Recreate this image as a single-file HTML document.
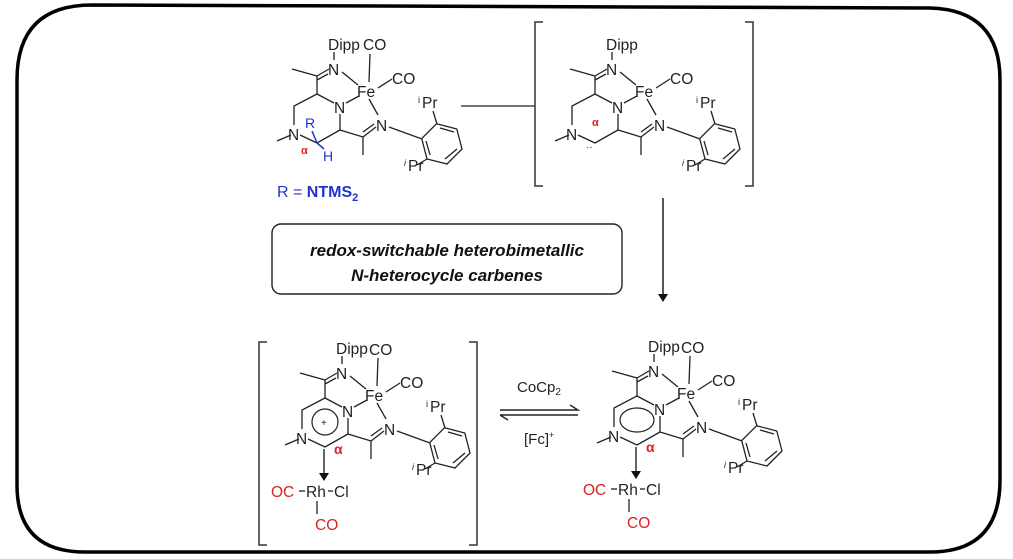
<!DOCTYPE html>
<html><head><meta charset="utf-8"><style>
html,body{margin:0;padding:0;background:#fff;}
svg{display:block}
text{font-family:"Liberation Sans",sans-serif;}
</style></head><body>
<svg width="1013" height="559" viewBox="0 0 1013 559" xmlns="http://www.w3.org/2000/svg">
<defs>
<marker id="ah" markerWidth="8" markerHeight="10" refX="7" refY="5" orient="auto" markerUnits="userSpaceOnUse">
<path d="M0,0 L8,5 L0,10 z" fill="#111"/></marker>
<g id="core" stroke="#222" stroke-width="1.3" fill="none">
<line x1="654" y1="354" x2="654" y2="362"/>
<line x1="662" y1="374" x2="678" y2="387"/>
<line x1="698" y1="390" x2="712" y2="381"/>
<line x1="637" y1="378" x2="612" y2="371"/>
<line x1="637" y1="378" x2="649" y2="371"/>
<line x1="637" y1="382" x2="648" y2="376"/>
<line x1="637" y1="378" x2="637" y2="396"/>
<polyline points="637,396 614,408 614,427"/>
<line x1="637" y1="396" x2="654" y2="405"/>
<line x1="660" y1="416" x2="660" y2="432"/>
<polyline points="660,432 637,445 620,437"/>
<line x1="611" y1="437" x2="597" y2="443"/>
<line x1="666" y1="405" x2="679" y2="398"/>
<line x1="689" y1="401" x2="698" y2="417"/>
<line x1="660" y1="432" x2="683" y2="439"/>
<line x1="683" y1="439" x2="696" y2="429"/>
<line x1="683" y1="434" x2="694" y2="426"/>
<line x1="683" y1="439" x2="683" y2="457"/>
<line x1="709" y1="429" x2="742" y2="441"/>
<polygon points="756.6,425.7 776.8,431 782,451 767,466 747,461 741.7,440.6"/>
<line x1="760" y1="430" x2="774" y2="434"/>
<line x1="777" y1="451" x2="765" y2="461"/>
<line x1="746" y1="443" x2="750" y2="457"/>
<line x1="757" y1="426" x2="753" y2="413"/>
<line x1="747" y1="461" x2="737" y2="467"/>
</g>
<line id="coline" x1="690" y1="356" x2="689" y2="384" stroke="#222" stroke-width="1.3"/>
<g id="coretext" font-size="15.5" fill="#222">
<text x="648" y="352">Dipp</text>
<text x="648" y="377">N</text>
<text x="677" y="399">Fe</text>
<text x="654" y="415">N</text>
<text x="608" y="442">N</text>
<text x="696" y="433">N</text>
<text x="738" y="410" font-size="9" dy="-5">i</text><text x="742" y="410">Pr</text>
<text x="724" y="473" font-size="9" dy="-5" font-style="italic">i</text><text x="728" y="473">Pr</text>
<text x="712" y="386">CO</text>
</g>
<g id="rh">
<line x1="636" y1="447" x2="636" y2="478" stroke="#111" stroke-width="1.3" marker-end="url(#ah)"/>
<text x="646" y="452" font-size="14" font-weight="bold" fill="#d22">α</text>
<text x="583" y="495" font-size="15.5" fill="#d22">OC</text>
<line x1="611" y1="489" x2="617" y2="489" stroke="#222" stroke-width="1.3"/>
<text x="618" y="495" font-size="15.5" fill="#222">Rh</text>
<line x1="640" y1="489" x2="645" y2="489" stroke="#222" stroke-width="1.3"/>
<text x="646" y="495" font-size="15.5" fill="#222">Cl</text>
<line x1="629" y1="499" x2="629" y2="512" stroke="#222" stroke-width="1.3"/>
<text x="627" y="528" font-size="15.5" fill="#d22">CO</text>
</g>
</defs>

<path d="M92,5 L930,8 Q1000,10 1000,80 L1000,480 Q1000,552 930,552 L85,552 Q17,552 17,485 L17,80 Q17,5 92,5 Z" fill="none" stroke="#000" stroke-width="3.5"/>

<use href="#core"/><use href="#coline"/><use href="#coretext"/><use href="#rh"/>
<text x="681" y="353" font-size="15.5" fill="#222">CO</text>
<ellipse cx="637" cy="420" rx="17" ry="12" fill="none" stroke="#222" stroke-width="1.2"/>

<g transform="translate(-312,2)">
<use href="#core"/><use href="#coline"/><use href="#coretext"/><use href="#rh"/>
<text x="681" y="353" font-size="15.5" fill="#222">CO</text>
<circle cx="637" cy="420" r="13" fill="none" stroke="#222" stroke-width="1.2"/>
<text x="633" y="424" font-size="10" fill="#222">+</text>
</g>
<polyline points="267,342 259,342 259,545 267,545" fill="none" stroke="#333" stroke-width="1.5"/>
<polyline points="469,342 477,342 477,545 469,545" fill="none" stroke="#333" stroke-width="1.5"/>

<g transform="translate(-320,-302)">
<use href="#core"/><use href="#coline"/><use href="#coretext"/>
<text x="683" y="352" font-size="15.5" fill="#222">CO</text>
<text x="625" y="430" font-size="14" fill="#23c">R</text>
<text x="643" y="463" font-size="14" fill="#23c">H</text>
<line x1="632" y1="433" x2="637" y2="445" stroke="#23c" stroke-width="1.5"/>
<line x1="637" y1="445" x2="644" y2="451" stroke="#23c" stroke-width="1.5"/>
<text x="621" y="456" font-size="11" font-weight="bold" fill="#d22">α</text>
</g>
<text x="277" y="197" font-size="16" fill="#23c">R = <tspan font-weight="bold">NTMS</tspan><tspan font-weight="bold" font-size="11" dy="4">2</tspan></text>
<line x1="461" y1="106" x2="535" y2="106" stroke="#222" stroke-width="1.3"/>

<g transform="translate(-42,-302)">
<use href="#core"/><use href="#coretext"/>
<text x="634" y="428" font-size="11" font-weight="bold" fill="#d22">α</text>
<text x="628" y="452" font-size="10" fill="#222">··</text>
</g>
<polyline points="543,22 535,22 535,186 543,186" fill="none" stroke="#333" stroke-width="1.5"/>
<polyline points="745,22 753,22 753,186 745,186" fill="none" stroke="#333" stroke-width="1.5"/>

<line x1="663" y1="198" x2="663" y2="301" stroke="#111" stroke-width="1.4" marker-end="url(#ah)"/>

<rect x="272" y="224" width="350" height="70" rx="9" fill="#fff" stroke="#222" stroke-width="1.4"/>
<text x="447" y="256" font-size="17" font-weight="bold" font-style="italic" text-anchor="middle" fill="#111">redox-switchable heterobimetallic</text>
<text x="447" y="281" font-size="17" font-weight="bold" font-style="italic" text-anchor="middle" fill="#111">N-heterocycle carbenes</text>

<text x="517" y="392" font-size="15" fill="#222">CoCp<tspan font-size="10" dy="3">2</tspan></text>
<path d="M500,410 L578,410 L570,405" fill="none" stroke="#222" stroke-width="1.4"/>
<path d="M500,415 L578,415 M500,415 L508,420" fill="none" stroke="#222" stroke-width="1.4"/>
<text x="524" y="444" font-size="15" fill="#222">[Fc]<tspan font-size="9" dy="-6">+</tspan></text>
</svg>
</body></html>
